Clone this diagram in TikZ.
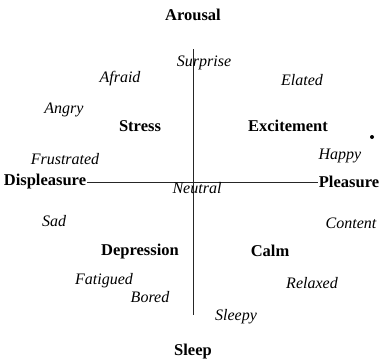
\documentclass[tikz,border=0pt]{standalone}
\usepackage{fontspec}
\setmainfont{Liberation Serif}
\begin{document}
\begin{tikzpicture}[x=1pt,y=-1pt,
  axis/.style={font=\fontsize{16.5}{19}\selectfont\bfseries,inner sep=1pt},
  emo/.style={font=\fontsize{16}{19}\selectfont\itshape,inner sep=1pt},
  quad/.style={font=\fontsize{16.5}{19}\selectfont\bfseries,inner sep=1pt},
  axisline/.style={line width=0.9pt,black!85}]
\useasboundingbox (0,0) rectangle (379,361);
\node[axis] (arousal) at (193,15) {Arousal};
\node[axis] (sleep) at (193,352) {Sleep};
\node[axis] (displeasure) at (45,182) {Displeasure};
\node[axis] (pleasure) at (349,182) {Pleasure};
\coordinate (top) at (193,49);
\coordinate (bot) at (193,315);
\draw[axisline] (top) -- (bot);
\draw[axisline] (displeasure.east) -- (pleasure.west);
\node[quad] (stress) at (140,126) {Stress};
\node[quad] (excitement) at (288,126) {Excitement};
\node[quad] (depression) at (140,252) {Depression};
\node[quad] (calm) at (270,251) {Calm};
\node[emo] (surprise) at (204,63) {Surprise};
\node[emo] (afraid) at (120,79) {Afraid};
\node[emo] (elated) at (302,80) {Elated};
\node[emo] (angry) at (64,110) {Angry};
\node[emo] (happy) at (340,156) {Happy};
\node[emo] (frustrated) at (65,159) {Frustrated};
\node[emo] (neutral) at (197,188) {Neutral};
\node[emo] (sad) at (54,221) {Sad};
\node[emo] (content) at (351,223) {Content};
\node[emo] (fatigued) at (104,281) {Fatigued};
\node[emo] (relaxed) at (312,283) {Relaxed};
\node[emo] (bored) at (150,297) {Bored};
\node[emo] (sleepy) at (236,317) {Sleepy};
\fill (372,137) circle (2pt);
\end{tikzpicture}
\end{document}
